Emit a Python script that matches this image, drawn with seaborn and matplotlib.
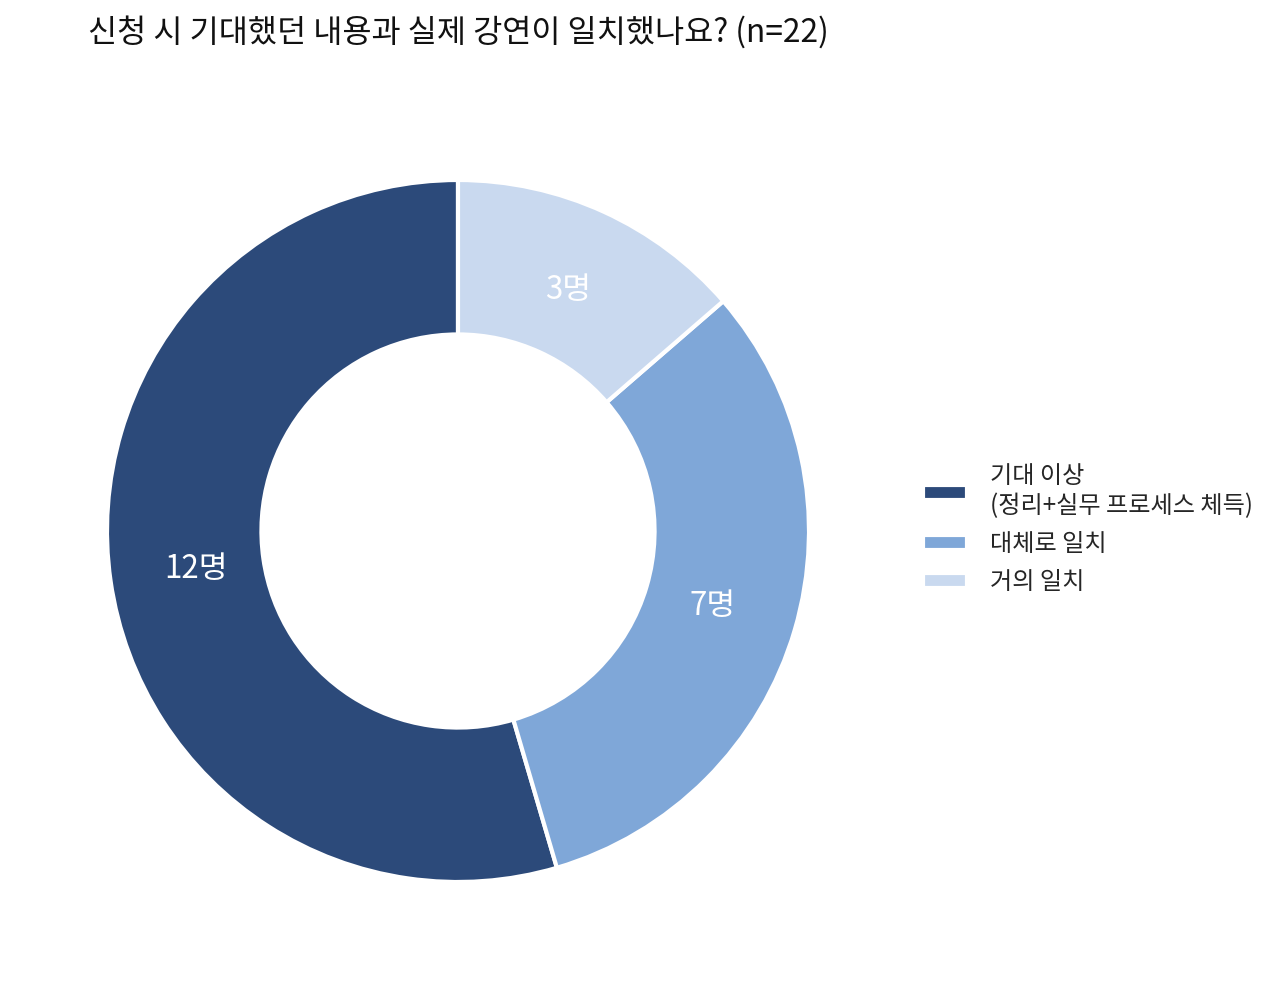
import matplotlib
matplotlib.use("Agg")
import matplotlib.pyplot as plt
import seaborn as sns

categories = ["기대 이상\n(정리+실무 프로세스 체득)", "대체로 일치", "거의 일치"]
counts = [12, 7, 3]
value_labels = ["12명", "7명", "3명"]
colors = ["#2c4a7a", "#7fa7d8", "#c9d9ef"]
title = "신청 시 기대했던 내용과 실제 강연이 일치했나요? (n=22)"

sns.set_theme(style="white")
plt.rcParams['font.family'] = ['Noto Sans CJK KR', 'DejaVu Sans']

fig = plt.figure(figsize=(12.8, 9.89), dpi=100)
ax = fig.add_axes([(458 - 351) / 1280, (989 - 531 - 351) / 989, 702 / 1280, 702 / 989])

palette = sns.color_palette(colors)
wedges, texts = ax.pie(
    counts,
    colors=palette,
    startangle=90,
    counterclock=True,
    labels=value_labels,
    labeldistance=0.755,
    wedgeprops=dict(width=0.44, edgecolor="white", linewidth=3),
    textprops=dict(color="white", fontsize=22.5),
)
for t in texts:
    t.set_horizontalalignment("center")
    t.set_verticalalignment("center")
ax.set_xlim(-1, 1)
ax.set_ylim(-1, 1)
ax.set_aspect("equal")
ax.axis("off")

fig.text(88 / 1280, 1 - 32 / 989, title, ha="left", va="center", fontsize=22.8, color="#111111")

fig.legend(
    wedges, categories,
    loc="center left",
    bbox_to_anchor=(901 / 1280, 1 - 529 / 989),
    frameon=False,
    fontsize=17.4,
    handlelength=1.82,
    handleheight=0.55,
    handletextpad=0.95,
    labelspacing=0.5,
)

fig.savefig("out.png", dpi=100)
